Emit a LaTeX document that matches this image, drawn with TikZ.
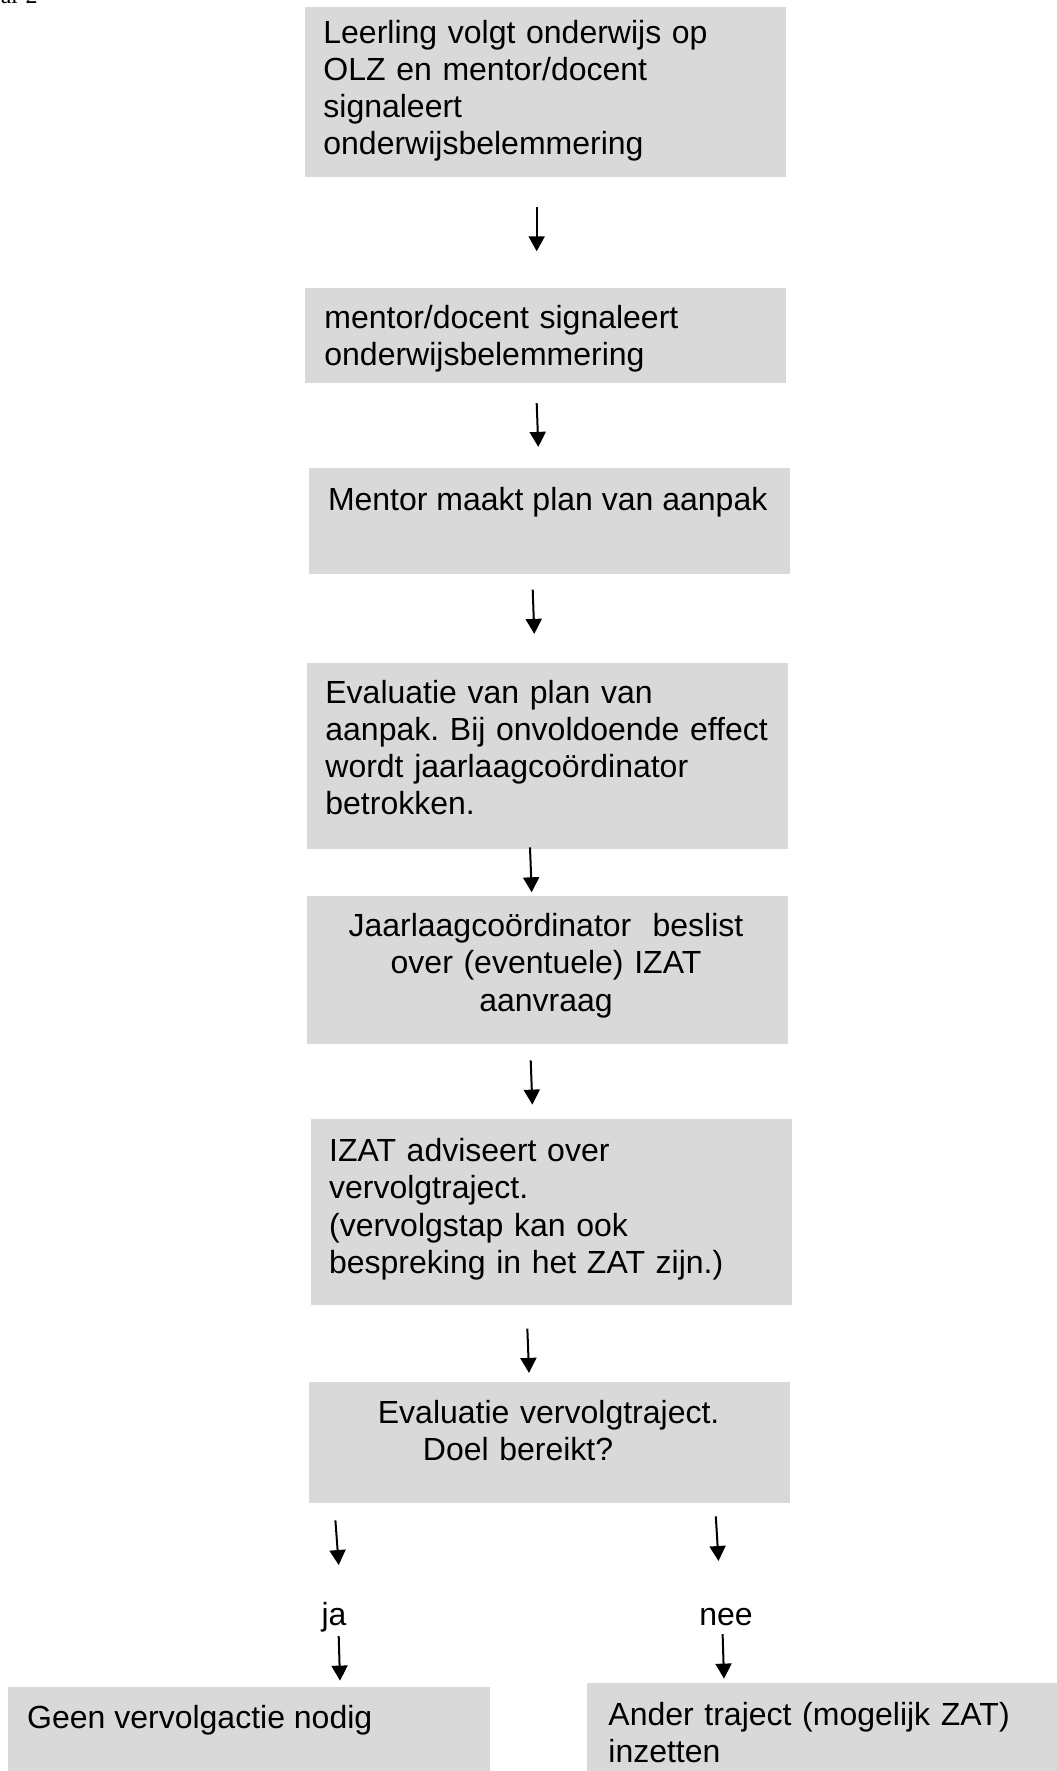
\documentclass[tikz,border=0pt]{standalone}
\usepackage{fontspec}
\setmainfont{Liberation Sans}
\newfontfamily\timesfont{Liberation Serif}
\usetikzlibrary{arrows.meta}
\definecolor{boxgray}{RGB}{217,217,217}
\frenchspacing
\tikzset{
  stepbox/.style={rectangle,fill=boxgray,draw=none,inner sep=0pt},
  boxtext/.style={inner sep=0pt,anchor=base west,text width=225pt,align=left,font=\fontsize{16}{18.6}\selectfont},
  ctrtext/.style={inner sep=0pt,anchor=base,text width=240pt,align=center,font=\fontsize{16}{18.6}\selectfont},
  linetext/.style={inner sep=0pt,anchor=base west,font=\fontsize{16}{18.6}\selectfont},
  lbl/.style={inner sep=0pt,anchor=base,font=\fontsize{16}{18.6}\selectfont},
  arr/.style={-{Triangle[length=7.5pt,width=8pt]},line width=1pt,black},
}
\begin{document}
\begin{tikzpicture}[x=0.5pt,y=-0.5pt]
\useasboundingbox (0,0) rectangle (1056,1771);

% cut-off header text (cut off at the top edge in the reference too)
\node[inner sep=0pt,anchor=base west,font=\timesfont\fontsize{12}{14}\selectfont] (hdr) at (0.5,3.3) {ar 2};

% boxes
\node[stepbox,minimum width=240.35pt,minimum height=85pt]   (b1) at (545.35,92) {};
\node[stepbox,minimum width=240.35pt,minimum height=47.2pt] (b2) at (545.35,335.5) {};
\node[stepbox,minimum width=240.5pt,minimum height=53pt]    (b3) at (549.5,521.3) {};
\node[stepbox,minimum width=240.2pt,minimum height=93.3pt]  (b4) at (547.5,756) {};
\node[stepbox,minimum width=240.2pt,minimum height=74pt]    (b5) at (547.5,970) {};
\node[stepbox,minimum width=240.35pt,minimum height=93pt]   (b6) at (551.35,1212) {};
\node[stepbox,minimum width=240.5pt,minimum height=60.1pt]  (b7) at (549.5,1442.4) {};
\node[stepbox,minimum width=240.8pt,minimum height=44.15pt] (b8) at (248.8,1730.85) {};
\node[stepbox,minimum width=236.5pt,minimum height=46.15pt] (b9) at (823.5,1728.85) {};

% texts
\node[boxtext] (t1) at (323,43.3) {Leerling volgt onderwijs op\\OLZ en mentor/docent\\signaleert\\onderwijsbelemmering};
\node[boxtext] (t2) at (324,328.3) {mentor/docent signaleert\\onderwijsbelemmering};
\node[linetext] (t3) at (327.6,510) {Mentor maakt plan van aanpak};
\node[boxtext] (t4) at (325,703.3) {Evaluatie van plan van\\aanpak. Bij onvoldoende effect\\wordt jaarlaagcoördinator\\betrokken.};
\node[ctrtext] (t5) at (546,936.7) {Jaarlaagcoördinator~ beslist\\over (eventuele) IZAT\\aanvraag};
\node[boxtext] (t6) at (328.7,1161.7) {IZAT adviseert over\\vervolgtraject.\\(vervolgstap kan ook\\bespreking in het ZAT zijn.)};
\node[boxtext] (t7) at (377.5,1423.3) {Evaluatie vervolgtraject.\\\hspace*{22.5pt}Doel bereikt?};
\node[lbl] (ja) at (334,1625) {ja};
\node[lbl] (nee) at (726,1625) {nee};
\node[linetext] (t8) at (26.8,1728.3) {Geen vervolgactie nodig};
\node[boxtext,text width=205pt] (t9) at (608,1725) {Ander traject (mogelijk ZAT)\\inzetten};

% connectors
\draw[arr] ([xshift=-4.33pt,yshift=-14.85pt]b1.south) -- ([xshift=-4.33pt,yshift=18.3pt]b2.north);
\draw[arr] ([xshift=-4.33pt,yshift=-10pt]b2.south) -- ([xshift=-5.6pt,yshift=10.5pt]b3.north);
\draw[arr] ([xshift=-8.4pt,yshift=-7.5pt]b3.south) -- ([xshift=-6.6pt,yshift=14.2pt]b4.north);
\draw[arr] ([xshift=-8.75pt,yshift=1.15pt]b4.south) -- ([xshift=-7.9pt,yshift=1.65pt]b5.north);
\draw[arr] ([xshift=-8.4pt,yshift=-8pt]b5.south) -- ([xshift=-9.5pt,yshift=7pt]b6.north);
\draw[arr] ([xshift=-12pt,yshift=-11.65pt]b6.south) -- ([xshift=-10.25pt,yshift=4.5pt]b7.north);
\draw[arr] ([xshift=-107.05pt,yshift=-8.75pt]b7.south) -- ([xshift=2.35pt,yshift=30pt]ja.base);
\draw[arr] ([xshift=83.15pt,yshift=-6.75pt]b7.south) -- ([xshift=-3.75pt,yshift=32pt]nee.base);
\draw[arr] ([xshift=2.35pt,yshift=-5.5pt]ja.base) -- ([xshift=45.6pt,yshift=2.85pt]b8.north);
\draw[arr] ([xshift=-1.7pt,yshift=-4.5pt]nee.base) -- ([xshift=-49.75pt,yshift=1.85pt]b9.north);
\end{tikzpicture}
\end{document}
